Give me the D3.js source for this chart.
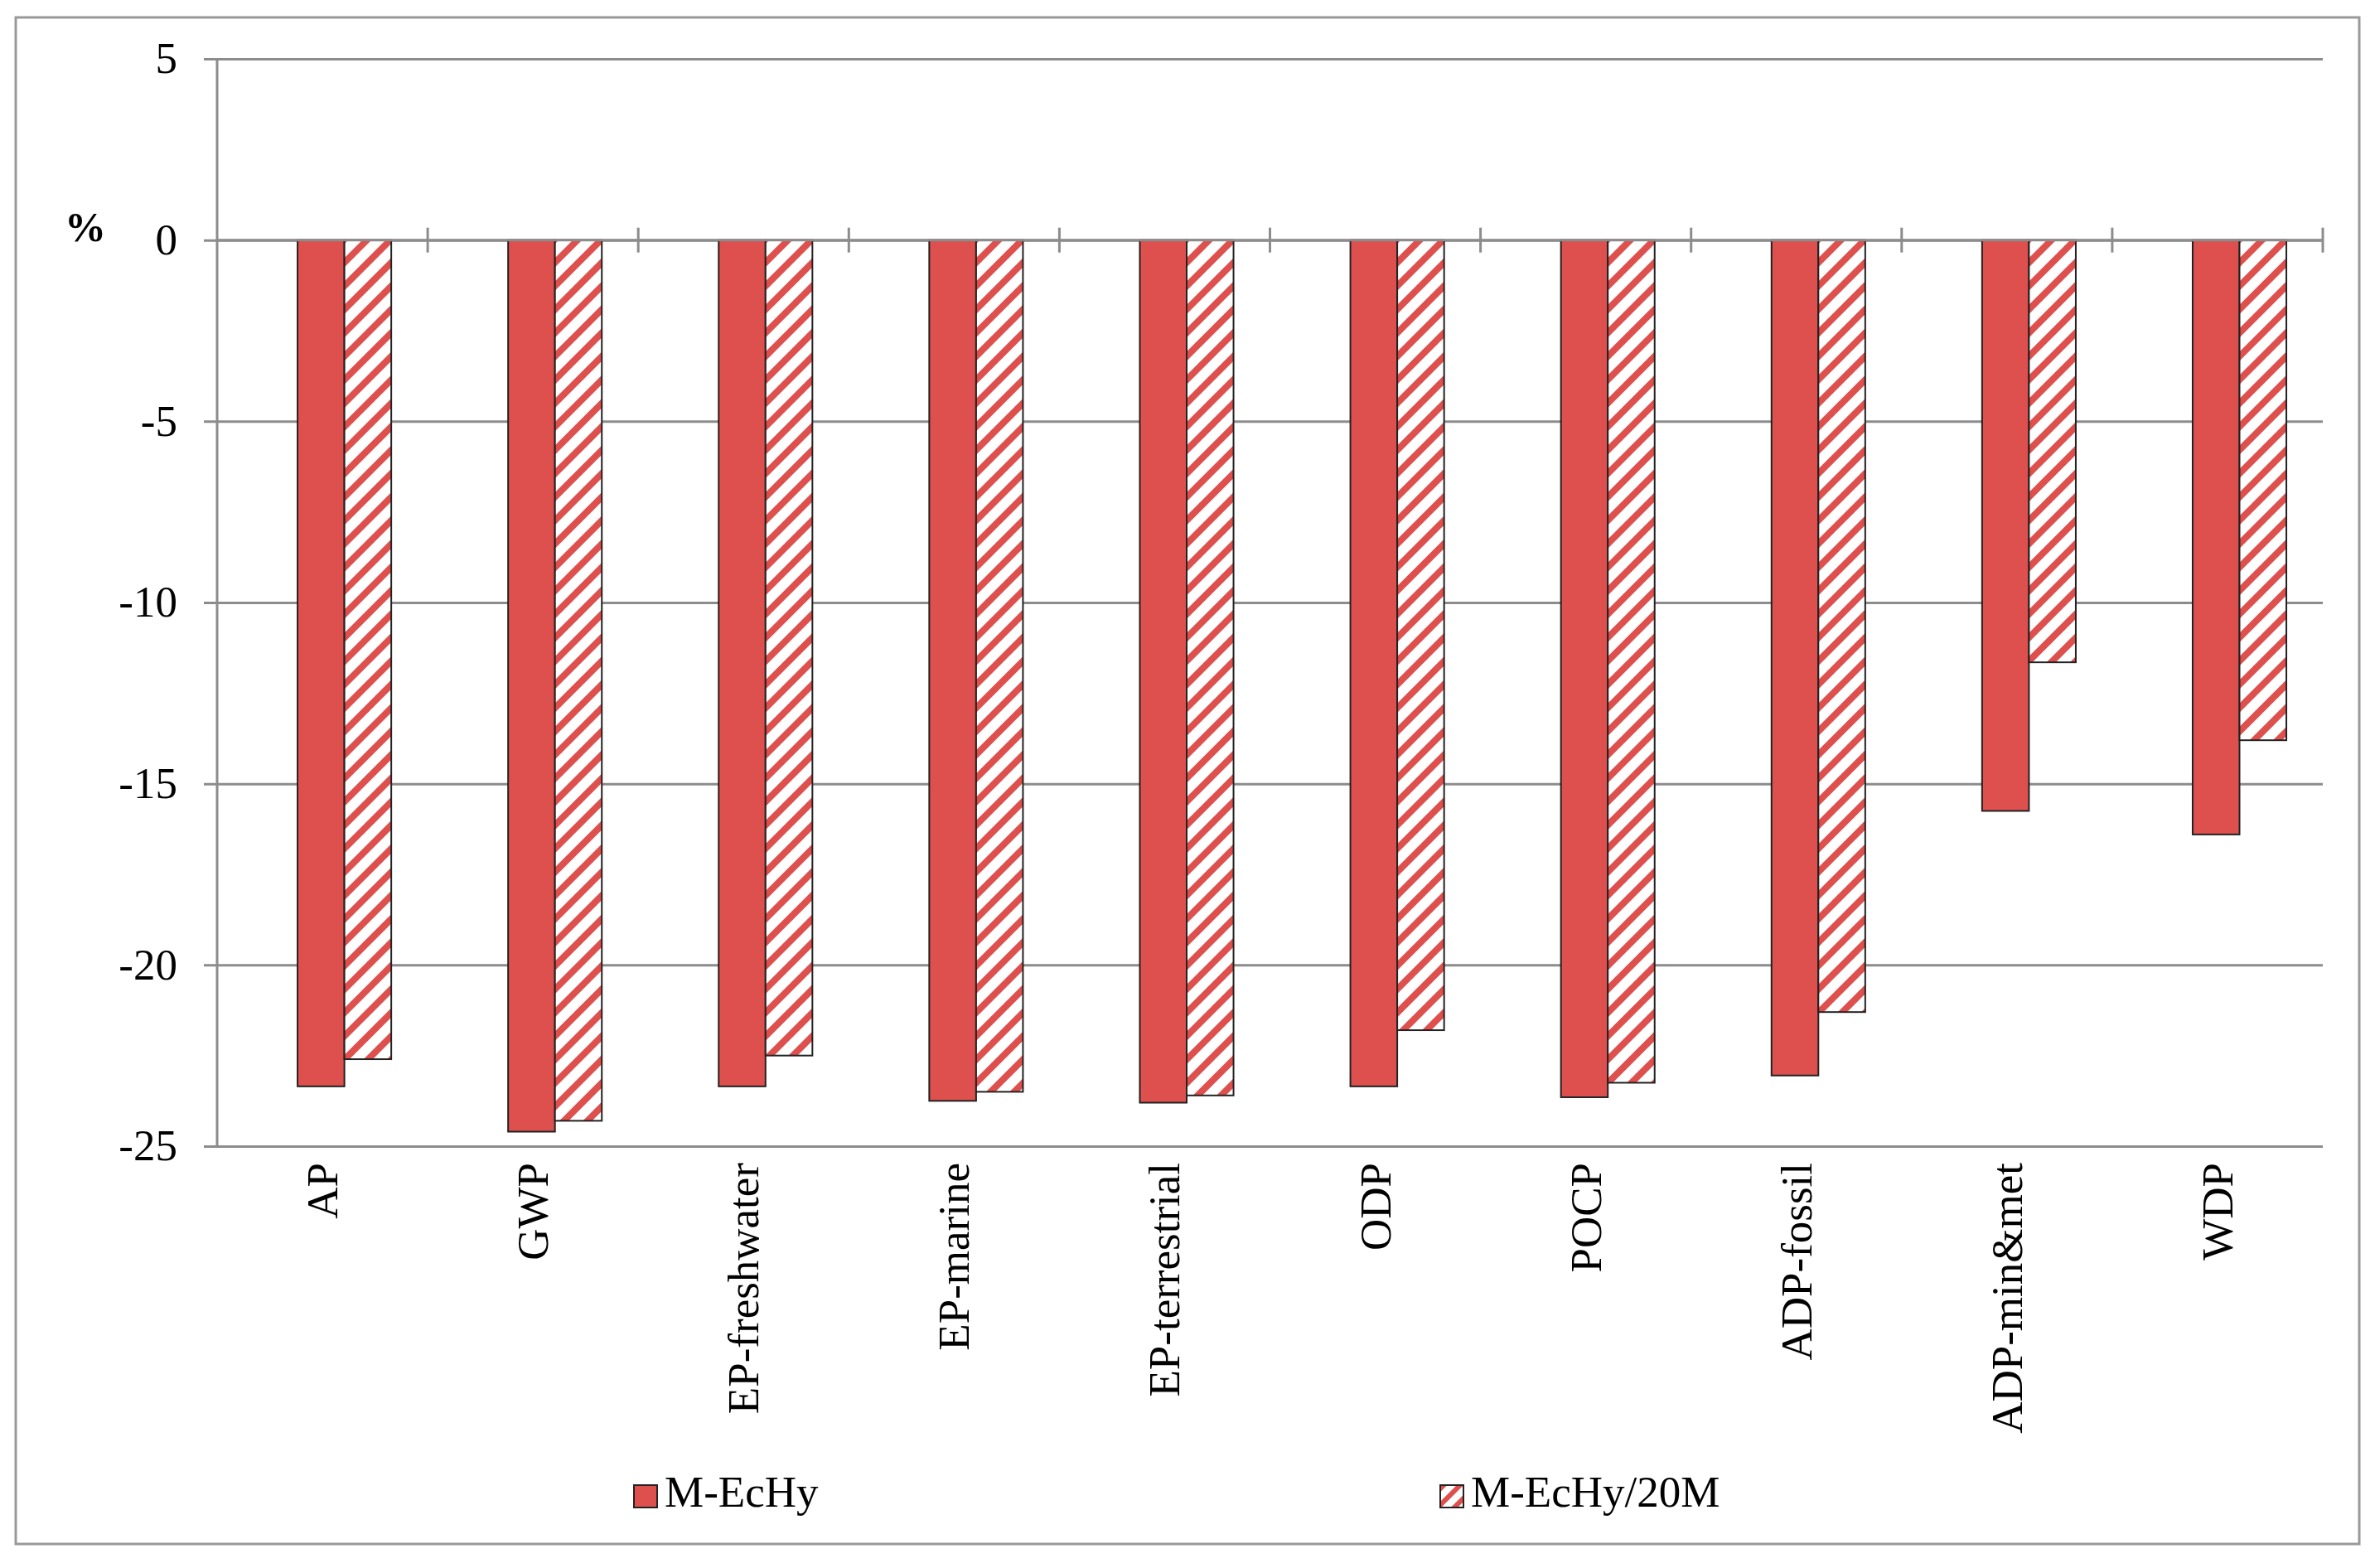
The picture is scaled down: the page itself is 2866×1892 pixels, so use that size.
<!DOCTYPE html>
<html>
<head>
<meta charset="utf-8">
<script src="https://cdn.jsdelivr.net/npm/d3@7"></script>
<style>
  html, body { margin: 0; padding: 0; background: #fff; }
  svg { display: block; }
  text { font-family: "Liberation Serif", "Times New Roman", serif; fill: #000; }
</style>
</head>
<body>
<script>
const categories = ["AP", "GWP", "EP-freshwater", "EP-marine", "EP-terrestrial", "ODP", "POCP", "ADP-fossil", "ADP-min&met", "WDP"];
const seriesNames = ["M-EcHy", "M-EcHy/20M"];
const valuesMEcHy = [-23.35, -24.6, -23.35, -23.75, -23.8, -23.35, -23.65, -23.05, -15.75, -16.4];
const valuesMEcHy20M = [-22.6, -24.3, -22.5, -23.5, -23.6, -21.8, -23.25, -21.3, -11.65, -13.8];
const yTicks = [5, 0, -5, -10, -15, -20, -25];

(function () {
const W = 2866, H = 1892;
const RED = "#DE504D";
const GRID = "#8c8c8c";

const svg = d3.select("body").append("svg").attr("width", W).attr("height", H);

// hatch pattern
const defs = svg.append("defs");
const pat = defs.append("pattern")
  .attr("id", "hatch").attr("patternUnits", "userSpaceOnUse")
  .attr("width", 20).attr("height", 20)
  .attr("patternTransform", "rotate(45)");
pat.append("rect").attr("width", 20).attr("height", 20).attr("fill", "#fff");
pat.append("rect").attr("x", 0).attr("y", 0).attr("width", 8).attr("height", 20).attr("fill", RED);

const patL = defs.append("pattern")
  .attr("id", "hatchL").attr("patternUnits", "userSpaceOnUse")
  .attr("width", 14).attr("height", 14)
  .attr("patternTransform", "rotate(45)");
patL.append("rect").attr("width", 14).attr("height", 14).attr("fill", "#fff");
patL.append("rect").attr("width", 6).attr("height", 14).attr("fill", RED);

// outer frame
svg.append("rect").attr("x", 19).attr("y", 21).attr("width", 2828).attr("height", 1842)
  .attr("fill", "none").attr("stroke", "#999").attr("stroke-width", 3);

const pLeft = 262, pRight = 2803, pTop = 71, pBottom = 1383;

const y = d3.scaleLinear().domain([-25, 5]).range([pBottom, pTop]);
const x0 = d3.scaleBand().domain(categories).range([pLeft, pRight]).padding(0);
const bw = x0.bandwidth();
const clusterOffset = bw * 0.382;
const x1 = d3.scaleBand().domain(seriesNames).range([0, bw * 0.445]).padding(0);

// gridlines + y ticks
const yAxis = d3.axisLeft(y).tickValues(yTicks).tickSize(-(pRight - pLeft)).tickSizeOuter(0)
  .tickFormat(d => d);
const gy = svg.append("g").attr("transform", `translate(${pLeft},0)`).call(yAxis);
gy.select(".domain").remove();
gy.selectAll(".tick line").attr("stroke", GRID).attr("stroke-width", 3).attr("x1", -16);
gy.selectAll(".tick text").attr("x", -48).attr("dy", "0.32em")
  .style("font-size", "53px").style("font-family", "'Liberation Serif', serif").attr("fill", "#000");

// y axis line
svg.append("line").attr("x1", pLeft).attr("x2", pLeft).attr("y1", y(5)).attr("y2", y(-25))
  .attr("stroke", GRID).attr("stroke-width", 3);

// bars
const seriesData = [valuesMEcHy, valuesMEcHy20M];
const groups = svg.append("g").selectAll("g").data(categories).join("g")
  .attr("transform", d => `translate(${x0(d) + clusterOffset},0)`);
groups.selectAll("rect").data((c, i) => seriesNames.map((s, j) => ({ s, v: seriesData[j][i] })))
  .join("rect")
  .attr("x", d => x1(d.s))
  .attr("y", d => y(Math.max(0, d.v)))
  .attr("width", x1.bandwidth())
  .attr("height", d => Math.abs(y(d.v) - y(0)))
  .attr("fill", d => d.s === seriesNames[0] ? RED : "url(#hatch)")
  .attr("stroke", "#222").attr("stroke-width", 2);

// zero line with category ticks
svg.append("line").attr("x1", pLeft).attr("x2", pRight).attr("y1", y(0)).attr("y2", y(0))
  .attr("stroke", GRID).attr("stroke-width", 3);
const bounds = categories.map(c => x0(c)).concat([x0(categories[categories.length - 1]) + bw]);
svg.append("g").selectAll("line").data(bounds.slice(1)).join("line")
  .attr("x1", d => d).attr("x2", d => d)
  .attr("y1", y(0) - 15).attr("y2", y(0) + 15)
  .attr("stroke", GRID).attr("stroke-width", 3);

// x labels (rotated)
svg.append("g").selectAll("text").data(categories).join("text")
  .attr("transform", d => `translate(${x0(d) + bw / 2 + 18},${pBottom + 20}) rotate(-90)`)
  .attr("text-anchor", "end")
  .style("font-size", "53px")
  .text(d => d);

// % label
svg.append("text").attr("x", 78).attr("y", 291).style("font-size", "50px").style("font-weight", "bold").text("%");

// legend
const legendX = [765, 1738];
const lg = svg.append("g").selectAll("g").data(seriesNames).join("g")
  .attr("transform", (d, i) => `translate(${legendX[i]},1792)`);
lg.append("rect").attr("width", 28).attr("height", 27)
  .attr("fill", (d, i) => i === 0 ? RED : "url(#hatchL)")
  .attr("stroke", "#222").attr("stroke-width", 2);
lg.append("text").attr("x", 37).attr("y", 26).style("font-size", "53px").text(d => d);
})();
</script>
</body>
</html>
